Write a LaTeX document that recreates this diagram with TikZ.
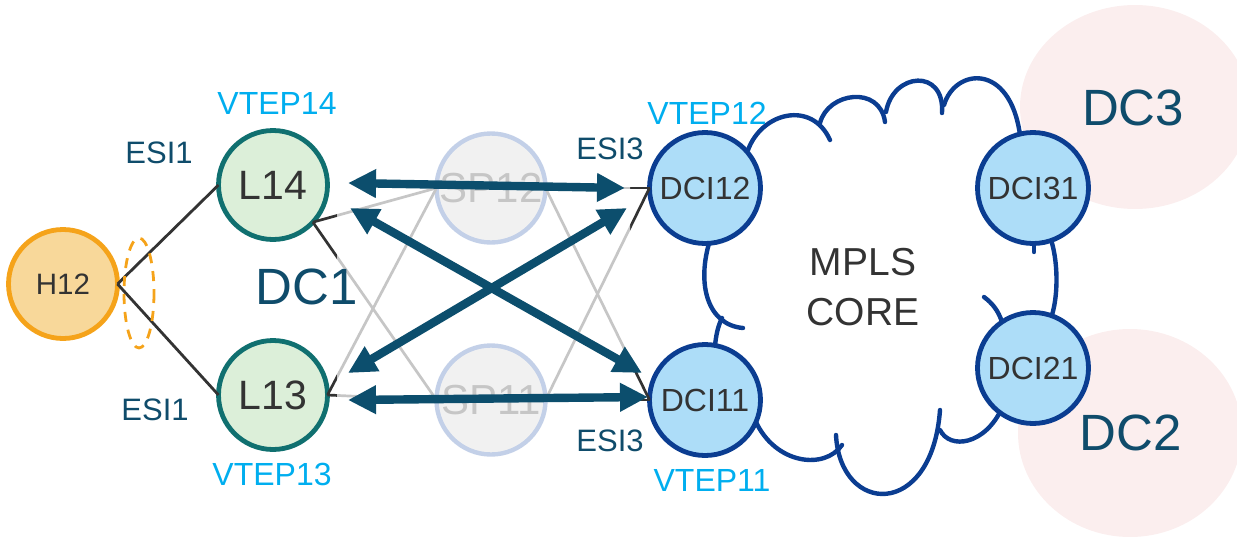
\documentclass[tikz,border=0pt]{standalone}
\usepackage{fontspec}
\setmainfont{Liberation Sans}
\usetikzlibrary{arrows.meta,calc}

\definecolor{vtep}{HTML}{00AEEF}
\definecolor{esi}{HTML}{0F4C6B}
\definecolor{leafline}{HTML}{107070}
\definecolor{leaffill}{HTML}{DCEFD9}
\definecolor{hostline}{HTML}{F5A31A}
\definecolor{hostfill}{HTML}{F8D89A}
\definecolor{dciline}{HTML}{0B3D91}
\definecolor{dcifill}{HTML}{ADDDF8}
\definecolor{spline}{HTML}{2957AD}
\definecolor{spfill}{HTML}{D0D0D0}
\definecolor{site}{HTML}{FBEEEE}
\definecolor{txt}{HTML}{333333}
\definecolor{flow}{HTML}{0C4E6D}

\begin{document}
\begin{tikzpicture}[x=0.5pt,y=-0.5pt,
  every node/.style={inner sep=0pt, outer sep=0pt},
  dev/.style={circle, minimum size=54.5pt, text=txt, line width=2.4pt},
  host/.style={dev, draw=hostline, fill=hostfill, font=\fontsize{14.75}{17}\selectfont},
  leaf/.style={dev, draw=leafline, fill=leaffill, font=\fontsize{20.5}{24}\selectfont},
  spine/.style={dev, draw=spline, fill=spfill, line width=2.2pt, font=\fontsize{21}{24}\selectfont},
  dci/.style={dev, minimum size=55.5pt, draw=dciline, fill=dcifill, font=\fontsize{16}{19}\selectfont},
  vteplbl/.style={text=vtep, font=\fontsize{16}{19}\selectfont},
  esilbl/.style={text=esi, font=\fontsize{15.5}{18}\selectfont},
  dclbl/.style={text=esi, font=\fontsize{25.5}{30}\selectfont},
  cloudline/.style={draw=dciline, line width=2.2pt, line cap=round},
  mesh/.style={draw=txt, line width=1.35pt},
  hostlink/.style={draw=txt, line width=1.4pt},
  flowarrow/.style={draw=flow, line width=4.2pt,
    {Triangle[length=14pt 0, width=13.5pt 0]}-{Triangle[length=14pt 0, width=13.5pt 0]}}
]
\clip (0,0) rectangle (1237,536);

% remote data centres
\fill[site] (1135,107) ellipse [x radius=115, y radius=102];
\fill[site] (1130,433) ellipse [x radius=112, y radius=104];
\node[dclbl] (dc3) at (1133,108) {DC3};
\node[dclbl] (dc2) at (1131,433) {DC2};

% MPLS core cloud
\draw[cloudline] (748,150) .. controls (762,112) and (812,100) .. (830,140);
\draw[cloudline] (820,123) .. controls (828,92) and (880,85) .. (885,122);
\draw[cloudline] (886,112) .. controls (893,72) and (945,68) .. (942,113);
\draw[cloudline] (944,105) .. controls (955,68) and (1010,62) .. (1020,135);
\draw[cloudline] (1052,243) .. controls (1058,265) and (1058,295) .. (1052,315);
\draw[cloudline] (984,297) .. controls (992,303) and (998,310) .. (1002,322);
\draw[cloudline] (1002,408) .. controls (985,445) and (950,450) .. (940,430);
\draw[cloudline] (836,435) .. controls (840,515) and (932,520) .. (940,410);
\draw[cloudline] (755,420) .. controls (775,465) and (825,470) .. (842,445);
\draw[cloudline] (710,240) .. controls (696,285) and (708,325) .. (743,328);
\draw[cloudline] (715,346) .. controls (716,335) and (718,326) .. (722,318);
\draw[cloudline] (1034,244) -- (1034,252);
\node[align=center, text=txt, font=\fontsize{19.5}{25}\selectfont] (core) at (863,287) {MPLS\\CORE};

% devices
\node[host] (H12) at (63,284) {H12};
\node[leaf] (L14) at (273,185) {L14};
\node[leaf] (L13) at (273,395) {L13};
\node[spine] (SP12) at (491,188) {SP12};
\node[spine] (SP11) at (491,400) {SP11};
\node[dci] (DCI12) at (705,188) {DCI12};
\node[dci] (DCI11) at (705,400) {DCI11};
\node[dci] (DCI31) at (1033,188) {DCI31};
\node[dci] (DCI21) at (1033,368) {DCI21};

% host multihoming
\draw[hostlink] (H12.east) -- (L14.west);
\draw[hostlink] (H12.east) -- (L13.west);
\draw[draw=hostline, line width=1.4pt, dash pattern=on 5pt off 4pt] (139,293) ellipse [x radius=15, y radius=55];

% leaf-spine-border mesh
\draw[mesh] (L14.-43) -- (SP12.west);
\draw[mesh] (L14.-43) -- (SP11.west);
\draw[mesh] (L13.east) -- (SP12.west);
\draw[mesh] (L13.east) -- (SP11.west);
\draw[mesh] (SP12.east) -- (DCI12.west);
\draw[mesh] (SP12.east) -- (DCI11.west);
\draw[mesh] (SP11.east) -- (DCI12.west);
\draw[mesh] (SP11.east) -- (DCI11.west);

% DC1 fabric veil
\fill[white, fill opacity=0.72, rounded corners=15] (337,80) rectangle (630,470);

% VXLAN tunnels
\coordinate (a1s) at ($(L14)+(75,-2)$);
\coordinate (a1e) at ($(DCI12)+(-80,0)$);
\coordinate (a2s) at ($(L13)+(75,5)$);
\coordinate (a2e) at ($(DCI11)+(-57,-3)$);
\coordinate (a3s) at ($(L14)+(77,23)$);
\coordinate (a3e) at ($(DCI11)+(-63,-27)$);
\coordinate (a4s) at ($(L13)+(75,-22)$);
\coordinate (a4e) at ($(DCI12)+(-78,20)$);
\draw[flowarrow] (a1s) -- (a1e);
\draw[flowarrow] (a2s) -- (a2e);
\draw[flowarrow] (a3s) -- (a3e);
\draw[flowarrow] (a4s) -- (a4e);

% labels
\node[dclbl] (dc1) at (307,287) {DC1};
\node[vteplbl] (v14) at (277,103) {VTEP14};
\node[vteplbl] (v13) at (272,474) {VTEP13};
\node[vteplbl] (v12) at (707,113) {VTEP12};
\node[vteplbl] (v11) at (712,480) {VTEP11};
\node[esilbl] (e1a) at (159,153) {ESI1};
\node[esilbl] (e1b) at (155,410) {ESI1};
\node[esilbl] (e3a) at (610,149) {ESI3};
\node[esilbl] (e3b) at (610,441) {ESI3};
\end{tikzpicture}
\end{document}
